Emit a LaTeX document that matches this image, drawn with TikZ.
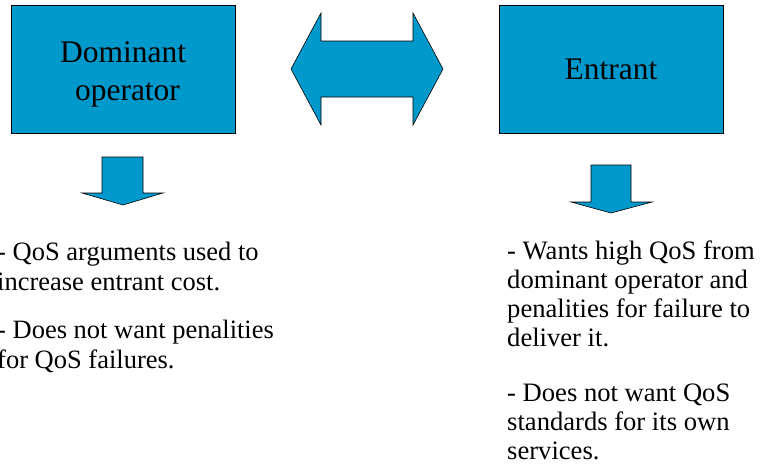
\documentclass[tikz,border=0pt]{standalone}
\usepackage{fontspec}
\setmainfont{Liberation Serif}
\definecolor{boxblue}{RGB}{0,153,204}
\tikzset{
  blockfill/.style={fill=boxblue, draw=black, line width=0.6pt, line join=miter},
  actor/.style={blockfill, rectangle, minimum width=224pt, minimum height=128pt, inner sep=0pt, align=center, font=\fontsize{31.5}{38}\selectfont},
  bodytext/.style={anchor=base west, inner sep=0pt, align=left},
}
\begin{document}
\begin{tikzpicture}[x=1pt,y=-1pt]
\useasboundingbox (0,0) rectangle (762,474);
% boxes
\node[actor] (dom) at (123,69) {\rule{0pt}{31pt}Dominant\\\hspace*{9pt}operator};
\node[actor] (ent) at (611,69) {Entrant};
% double arrow
\coordinate (dl) at (291,69);
\coordinate (dr) at (443,69);
\filldraw[blockfill] (dl) -- (321,13) -- (321,41) -- (413,41) -- (413,13) -- (dr)
  -- (413,125) -- (413,97) -- (321,97) -- (321,125) -- cycle;
% down arrows
\coordinate (ltip) at (123,205);
\filldraw[blockfill] (102,157) -- (143,157) -- (143,193) -- (163,193) -- (ltip)
  -- (82,193) -- (102,193) -- cycle;
\coordinate (rtip) at (611,213);
\filldraw[blockfill] (591,165) -- (631,165) -- (631,202) -- (652,202) -- (rtip)
  -- (571,202) -- (591,202) -- cycle;
% texts (base anchor = last line baseline)
\node[bodytext, font=\fontsize{26.5}{30}\selectfont] (lt1) at (-3,290)
  {- QoS arguments used to\\increase entrant cost.};
\node[bodytext, font=\fontsize{26.5}{30}\selectfont] (lt2) at (-3,368)
  {- Does not want penalities\\for QoS failures.};
\node[bodytext, font=\fontsize{26.6}{28.7}\selectfont] (rt1) at (507,346)
  {- Wants high QoS from\\dominant operator and\\penalities for failure to\\deliver it.};
\node[bodytext, font=\fontsize{26.6}{28.7}\selectfont] (rt2) at (507,459)
  {- Does not want QoS\\standards for its own\\services.};
\end{tikzpicture}
\end{document}
